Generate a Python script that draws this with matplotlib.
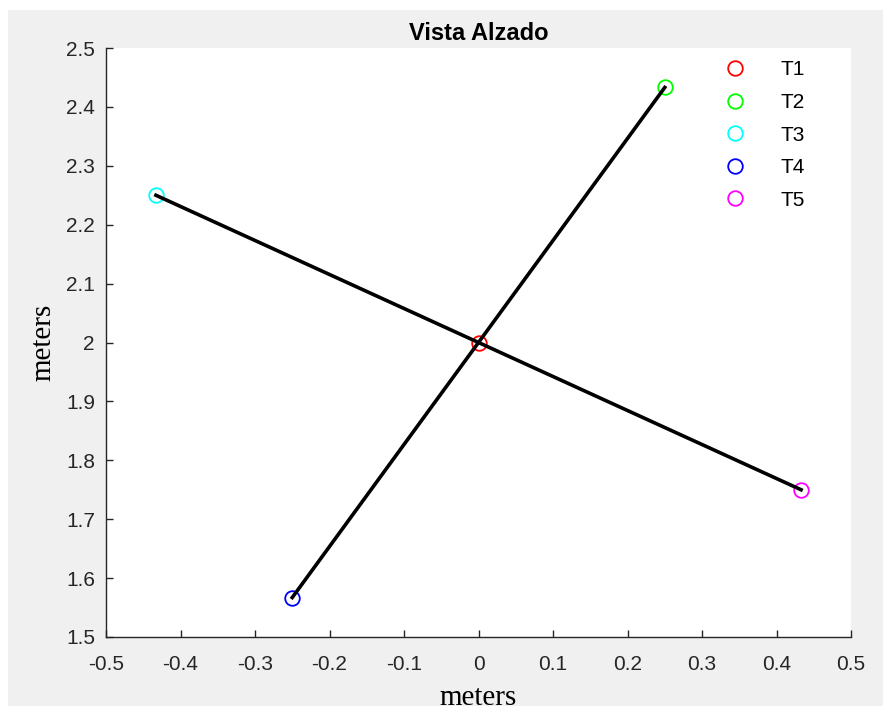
import matplotlib.pyplot as plt
from matplotlib.patches import Rectangle

# points (x, z) of each target
names = ['T1', 'T2', 'T3', 'T4', 'T5']
xs = [0.0, 0.25, -0.433, -0.25, 0.433]
zs = [2.0, 2.433, 2.25, 1.567, 1.75]
colors = ['#ff0000', '#00ff00', '#00ffff', '#0000ff', '#ff00ff']

# segments joining the targets
seg_a = ['T4', 'T2']
seg_b = ['T3', 'T5']

xticks = [-0.5, -0.4, -0.3, -0.2, -0.1, 0, 0.1, 0.2, 0.3, 0.4, 0.5]
yticks = [1.5, 1.6, 1.7, 1.8, 1.9, 2, 2.1, 2.2, 2.3, 2.4, 2.5]

fig = plt.figure(figsize=(8.83, 7.06), dpi=100, facecolor='white')
# gray MATLAB-like figure background with thin white border at top/left
fig.patches.append(Rectangle((8 / 883, 0), 1, 1 - 10 / 706, transform=fig.transFigure,
                             facecolor='#f0f0f0', edgecolor='none', zorder=-10))

ax = fig.add_axes([106 / 883, 69 / 706, 745 / 883, 589 / 706])
ax.set_facecolor('white')

for n, x, z, c in zip(names, xs, zs, colors):
    ax.plot(x, z, 'o', mfc='none', mec=c, ms=10.5, mew=1.3, label=n, zorder=2)

for seg in (seg_a, seg_b):
    i, j = names.index(seg[0]), names.index(seg[1])
    ax.plot([xs[i], xs[j]], [zs[i], zs[j]], color='black', lw=2.6, zorder=3)

ax.set_xlim(-0.5, 0.5)
ax.set_ylim(1.5, 2.5)
ax.set_xticks(xticks)
ax.set_yticks(yticks)
ax.set_xticklabels([f'{t:g}' for t in xticks])
ax.set_yticklabels([f'{t:g}' for t in yticks])

ax.spines['top'].set_visible(False)
ax.spines['right'].set_visible(False)
for s in ('left', 'bottom'):
    ax.spines[s].set_color('#262626')
    ax.spines[s].set_linewidth(1.0)
ax.tick_params(direction='in', length=5, width=1.0, color='#262626',
               labelcolor='#262626', labelsize=15)
ax.tick_params(axis='x', pad=13)
ax.tick_params(axis='y', pad=8)
for lab in ax.get_xticklabels() + ax.get_yticklabels():
    lab.set_family('Liberation Sans')

ax.set_title('Vista Alzado', fontsize=17, fontweight='bold', family='Liberation Sans', pad=6)
ax.set_xlabel('meters', fontsize=21, family='Liberation Serif', labelpad=8)
ax.set_ylabel('meters', fontsize=21, family='Liberation Serif', labelpad=7)

leg = ax.legend(loc='upper left', bbox_to_anchor=(0.805, 0.993), borderaxespad=0,
                frameon=True, fancybox=False, edgecolor='white',
                facecolor='white', framealpha=1, prop={'family': 'Liberation Sans', 'size': 15},
                handletextpad=1.2, labelspacing=0.65)

plt.savefig('out.png', dpi=100, facecolor=fig.get_facecolor())
plt.close()
